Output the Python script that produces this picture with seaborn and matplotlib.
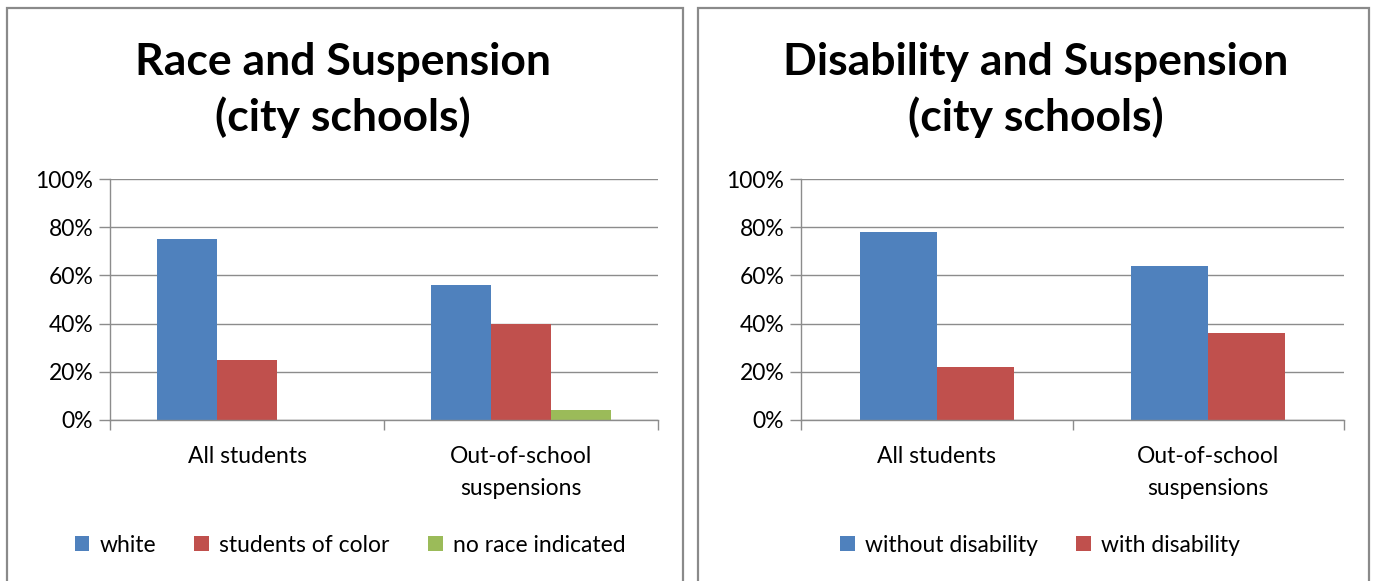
import matplotlib
matplotlib.use("Agg")
import matplotlib.pyplot as plt
from matplotlib.patches import Rectangle
from matplotlib.ticker import PercentFormatter, FixedLocator
import seaborn as sns
import pandas as pd

sns.set_theme(style="white")
plt.rcParams["font.family"] = ["Lato", "DejaVu Sans"]
plt.rcParams["text.color"] = "black"

# Race panel
race_categories = ["All students", "Out-of-school\nsuspensions"]
race_groups = ["white", "students of color", "no race indicated"]
race_white = [0.75, 0.56]
race_color = [0.25, 0.40]
race_none = [0.00, 0.04]

# Disability panel
dis_categories = ["All students", "Out-of-school\nsuspensions"]
dis_groups = ["without disability", "with disability"]
dis_without = [0.78, 0.64]
dis_with = [0.22, 0.36]

y_ticks = [0, 0.2, 0.4, 0.6, 0.8, 1.0]

BLUE, RED, GREEN = "#4F81BD", "#C0504D", "#9BBB59"
GRID = "#8C8C8C"
LABEL_SIZE = 16.5


def long_frame(categories, groups, series):
    rows = []
    for g, vals in zip(groups, series):
        for c, v in zip(categories, vals):
            rows.append({"category": c, "group": g, "share": v})
    return pd.DataFrame(rows)


race_df = long_frame(race_categories, race_groups, [race_white, race_color, race_none])
dis_df = long_frame(dis_categories, dis_groups, [dis_without, dis_with])

W, H = 1374, 581
fig = plt.figure(figsize=(W / 100, H / 100), dpi=100)
fig.patch.set_facecolor("white")

# panel frames
for x0, x1 in [(7, 683), (698, 1369)]:
    fig.patches.append(Rectangle((x0 / W, -0.01), (x1 - x0) / W, 1 - 8 / H + 0.01,
                                 transform=fig.transFigure, fill=False,
                                 edgecolor="#8A8A8A", linewidth=1.6))

ax1 = fig.add_axes([110 / W, 1 - 420 / H, 548 / W, 241 / H])
ax2 = fig.add_axes([801 / W, 1 - 420 / H, 543 / W, 241 / H])


def style_axes(ax, categories):
    ax.set_xlim(-0.5, len(categories) - 0.5)
    ax.set_ylim(0, 1.0)
    ax.yaxis.set_major_locator(FixedLocator(y_ticks))
    ax.yaxis.set_major_formatter(PercentFormatter(1.0, decimals=0))
    ax.grid(axis="y", color=GRID, linewidth=1.0)
    ax.set_axisbelow(True)
    for side in ["top", "right"]:
        ax.spines[side].set_visible(False)
    for side in ["left", "bottom"]:
        ax.spines[side].set_color(GRID)
        ax.spines[side].set_linewidth(1.0)
    ax.tick_params(axis="y", which="major", left=True, length=8, width=1.0,
                   color=GRID, labelsize=LABEL_SIZE, labelcolor="black", pad=4)
    ax.tick_params(axis="x", which="major", bottom=False, labelsize=LABEL_SIZE,
                   labelcolor="black", pad=13)
    ax.set_xticks(range(len(categories)))
    ax.set_xticklabels(categories, linespacing=1.6)
    ax.set_xticks([i - 0.5 for i in range(len(categories) + 1)], minor=True)
    ax.tick_params(axis="x", which="minor", bottom=True, length=7, width=1.0,
                   color=GRID, direction="out")
    ax.set_xlabel("")
    ax.set_ylabel("")


sns.barplot(data=race_df, x="category", y="share", hue="group",
            palette=[BLUE, RED, GREEN], width=0.66, saturation=1,
            edgecolor="none", ax=ax1, legend=True)
sns.barplot(data=dis_df, x="category", y="share", hue="group",
            palette=[BLUE, RED], width=0.567, saturation=1,
            edgecolor="none", ax=ax2, legend=True)

style_axes(ax1, race_categories)
style_axes(ax2, dis_categories)

for ax, cx in [(ax1, 350), (ax2, 1040)]:
    handles, labels = ax.get_legend_handles_labels()
    ax.get_legend().remove()
    fig.legend(handles, labels, loc="center", bbox_to_anchor=(cx / W, 1 - 545 / H),
               ncol=len(labels), frameon=False, fontsize=LABEL_SIZE, handlelength=0.65,
               handleheight=0.6, handletextpad=0.45, columnspacing=1.65)

fig.text(343 / W, 1 - 90 / H, "Race and Suspension\n(city schools)", ha="center",
         va="center", fontsize=32, fontweight="bold", linespacing=1.42, color="black")
fig.text(1036 / W, 1 - 90 / H, "Disability and Suspension\n(city schools)", ha="center",
         va="center", fontsize=32, fontweight="bold", linespacing=1.42, color="black")

fig.savefig("out.png", dpi=100)
